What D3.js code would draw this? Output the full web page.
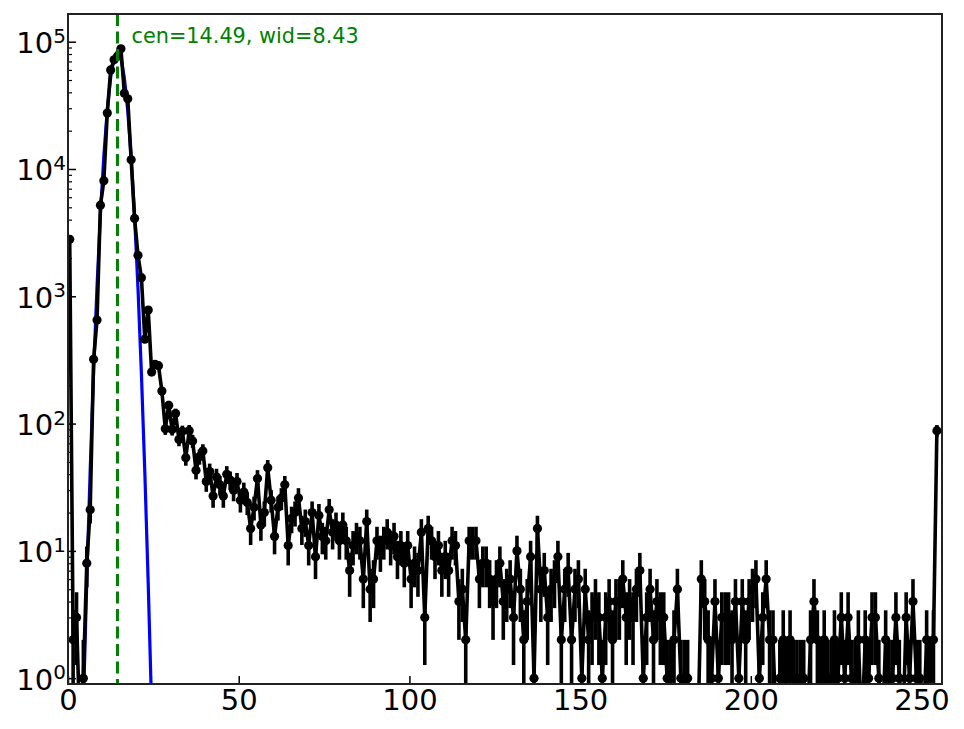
<!DOCTYPE html>
<html>
<head>
<meta charset="utf-8">
<script src="https://cdn.jsdelivr.net/npm/d3@7"></script>
<style>
  body { margin: 0; background: #fff; }
  text { font-family: "DejaVu Sans", sans-serif; }
</style>
</head>
<body>
<script>
// counts per bin (bin i is drawn at i + 0.5)
var counts = [
  2800, 2, 3, 0, 1, 8, 21, 320, 650, 5200,
  8100, 27500, 60000, 72000, 77000, 88000, 39400, 35600, 11800, 4090,
  2100, 1400, 460, 780, 254, 292, 285, 180, 91, 139,
  90, 120, 75, 87, 54, 88, 73, 43, 55, 61,
  35, 42, 27, 38, 33, 27, 40, 36, 30, 35,
  25, 29, 24, 15, 22, 37, 16, 20, 45, 25,
  13, 22, 26, 33, 11, 18, 20, 26, 15, 17,
  11, 20, 9, 19, 13, 12, 21, 14, 16, 12,
  16, 12, 7, 11, 13, 12, 6, 17, 5, 6,
  12, 10, 12, 14, 11, 13, 9, 11, 8, 11,
  6, 8, 7, 14, 3, 15, 12, 9, 11, 7,
  9, 7, 12, 11, 4, 5, 2, 12, 12, 12,
  6, 8, 8, 6, 4, 6, 8, 4, 5, 6,
  3, 10, 5, 2, 4, 9, 1, 15, 5, 7,
  3, 5, 6, 9, 2, 5, 7, 2, 5, 6,
  1, 5, 2, 3, 4, 3, 1, 3, 4, 2,
  4, 4, 6, 3, 4, 3, 5, 7, 1, 3,
  5, 2, 4, 3, 3, 1, 1, 2, 5, 1,
  1, 1, 0, 0, 0, 6, 4, 2, 1, 4,
  1, 3, 3, 3, 2, 4, 1, 4, 2, 4,
  5, 6, 1, 3, 6, 2, 2, 0, 1, 2,
  1, 2, 1, 1, 1, 1, 0, 2, 4, 2,
  1, 2, 1, 1, 2, 1, 3, 1, 3, 1,
  1, 2, 0, 2, 1, 3, 3, 1, 0, 2,
  1, 1, 3, 1, 0, 3, 1, 4, 1, 1,
  0, 2, 1, 2, 88
];

// gaussian fit, bins 4..24
var fitStart = 4;
var fitValues = [0.61, 5.75, 43, 254, 1190, 4380, 12700, 29100, 52500, 74800,
  84000, 74400, 52000, 28700, 12500, 4270, 1157, 247, 41.6, 5.5, 0.58];

var fitCen = 14.49;
var fitLabel = "cen=14.49, wid=8.43";

var xTicks = [0, 50, 100, 150, 200, 250];
var yDecades = [0, 1, 2, 3, 4, 5];

var W = 964, H = 729;
var pLeft = 68, pRight = 942, pTop = 14, pBottom = 684;

var svg = d3.select("body").append("svg")
  .attr("width", W)
  .attr("height", H);

var x = d3.scaleLinear().domain([0, 256]).range([pLeft, pRight]);
var y = d3.scaleLog().domain([0.9, 165000]).range([pBottom, pTop]);

svg.append("clipPath").attr("id", "plot")
  .append("rect")
  .attr("x", pLeft).attr("y", pTop)
  .attr("width", pRight - pLeft).attr("height", pBottom - pTop);

var g = svg.append("g").attr("clip-path", "url(#plot)");

// zero / non-positive values fall off the bottom like in the original
var safe = function(v){ return v > 0 ? y(v) : pBottom + 50; };

var pts = counts.map(function(c, i){ return {x: i + 0.5, v: c}; });
var fitPts = fitValues.map(function(v, i){ return {x: fitStart + i + 0.5, v: v}; });

// fit curve
g.append("path")
  .datum(fitPts)
  .attr("fill", "none")
  .attr("stroke", "#0000ff")
  .attr("stroke-width", 3.2)
  .attr("d", d3.line().x(function(d){ return x(d.x); }).y(function(d){ return safe(d.v); }));

// error bars
g.selectAll(".err")
  .data(pts.filter(function(d){ return d.v > 0; }))
  .enter().append("line")
  .attr("class", "err")
  .attr("x1", function(d){ return x(d.x); })
  .attr("x2", function(d){ return x(d.x); })
  .attr("y1", function(d){ return safe(d.v - Math.sqrt(d.v)); })
  .attr("y2", function(d){ return safe(d.v + Math.sqrt(d.v)); })
  .attr("stroke", "#000")
  .attr("stroke-width", 3.6);

// data line
g.append("path")
  .datum(pts)
  .attr("fill", "none")
  .attr("stroke", "#000")
  .attr("stroke-width", 3.6)
  .attr("stroke-linejoin", "round")
  .attr("d", d3.line().x(function(d){ return x(d.x); }).y(function(d){ return safe(d.v); }));

// markers
g.selectAll(".dot")
  .data(pts.filter(function(d){ return d.v > 0; }))
  .enter().append("circle")
  .attr("class", "dot")
  .attr("cx", function(d){ return x(d.x); })
  .attr("cy", function(d){ return y(d.v); })
  .attr("r", 4.6)
  .attr("fill", "#000");

// centre line
g.append("line")
  .attr("x1", x(fitCen)).attr("x2", x(fitCen))
  .attr("y1", pTop).attr("y2", pBottom)
  .attr("stroke", "#008000")
  .attr("stroke-width", 3)
  .attr("stroke-dasharray", "12,5.5");

svg.append("text")
  .attr("x", x(fitCen) + 14)
  .attr("y", 43)
  .attr("fill", "#008000")
  .style("font-size", "20.8px")
  .text(fitLabel);

// x axis
var xAxis = svg.append("g")
  .attr("transform", "translate(0," + pBottom + ")")
  .call(d3.axisBottom(x).tickValues(xTicks).tickSize(-8).tickPadding(5).tickFormat(d3.format("d")));
xAxis.select(".domain").remove();
xAxis.selectAll("line").attr("stroke", "#000").attr("stroke-width", 1.5);
xAxis.selectAll("text").style("font-size", "29px").attr("fill", "#000");

// y axis major + minor ticks
var majors = yDecades.map(function(e){ return Math.pow(10, e); });
var minors = [];
yDecades.forEach(function(e){
  for (var k = 2; k <= 9; k++) {
    var v = k * Math.pow(10, e);
    if (v > 0.9 && v < 165000) minors.push(v);
  }
});

var yAxis = svg.append("g")
  .attr("transform", "translate(" + pLeft + ",0)")
  .call(d3.axisLeft(y).tickValues(majors).tickSize(-8).tickFormat(""));
yAxis.select(".domain").remove();
yAxis.selectAll("line").attr("stroke", "#000").attr("stroke-width", 1.5);

var yMinor = svg.append("g")
  .attr("transform", "translate(" + pLeft + ",0)")
  .call(d3.axisLeft(y).tickValues(minors).tickSize(-4).tickFormat(""));
yMinor.select(".domain").remove();
yMinor.selectAll("line").attr("stroke", "#000").attr("stroke-width", 1.2);

var labels = svg.append("g").selectAll("text")
  .data(yDecades)
  .enter().append("text")
  .attr("x", 66)
  .attr("y", function(e){ return y(Math.pow(10, e)) + 11.5; })
  .attr("text-anchor", "end")
  .attr("fill", "#000");
labels.append("tspan").style("font-size", "29px").text("10");
labels.append("tspan").style("font-size", "20px").attr("dy", -10.5)
  .text(function(e){ return e; });

// frame
svg.append("rect")
  .attr("x", pLeft).attr("y", pTop)
  .attr("width", pRight - pLeft).attr("height", pBottom - pTop)
  .attr("fill", "none")
  .attr("stroke", "#222")
  .attr("stroke-width", 2);
</script>
</body>
</html>
